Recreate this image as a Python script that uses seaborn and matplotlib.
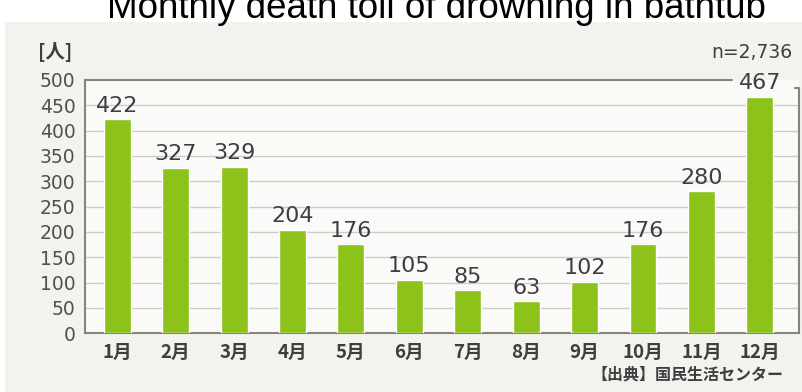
import matplotlib
matplotlib.use("Agg")
import matplotlib.pyplot as plt
import seaborn as sns
import pandas as pd

months = ["1月", "2月", "3月", "4月", "5月", "6月", "7月", "8月", "9月", "10月", "11月", "12月"]
deaths = [422, 327, 329, 204, 176, 105, 85, 63, 102, 176, 280, 467]
y_ticks = [0, 50, 100, 150, 200, 250, 300, 350, 400, 450, 500]

title = "Monthly death toll of drowning in bathtub"
unit_label = "[人]"
total_label = "n=2,736"
source_label = "【出典】国民生活センター"

sns.set_theme(style="white")
plt.rcParams["font.family"] = ["DejaVu Sans", "Noto Sans CJK JP"]
cjk = ["Noto Sans CJK JP", "DejaVu Sans"]

bar_color = "#8cc21a"
text_color = "#3e3e3e"
tick_color = "#505050"
frame_color = "#85857f"
grid_color = "#cdcdc8"
paper = "#f3f2ef"
plot_bg = "#fafaf8"

df = pd.DataFrame({"month": months, "deaths": deaths})

fig = plt.figure(figsize=(8.03, 3.92), dpi=100)
fig.patch.set_facecolor("white")
# paper area below the title
fig.patches.append(plt.Rectangle((0.006, 0.0), 0.994, 0.945, transform=fig.transFigure,
                                 facecolor=paper, edgecolor="none", zorder=-10))

ax = fig.add_axes([0.106, 0.150, 0.889, 0.646])
ax.set_facecolor(plot_bg)
sns.barplot(data=df, x="month", y="deaths", color=bar_color, width=0.46,
            saturation=1, ax=ax, zorder=3)

x_left, x_right = -0.55, 11.67
ax.set_ylim(0, 500)
ax.set_xlim(x_left, x_right)
ax.set_yticks(y_ticks)
ax.set_yticklabels([str(v) for v in y_ticks], fontsize=13.5, color=tick_color)
ax.tick_params(axis="x", labelsize=13.5, colors=text_color, length=0, pad=7)
ax.tick_params(axis="y", length=0, pad=7)
for lbl in ax.get_xticklabels():
    lbl.set_fontweight("bold")
    lbl.set_family(cjk)
ax.set_xlabel("")
ax.set_ylabel("")

for v in y_ticks[1:-1]:
    ax.axhline(v, color=grid_color, lw=1.0, zorder=1)

for side in ["left", "bottom"]:
    ax.spines[side].set_color(frame_color)
    ax.spines[side].set_linewidth(1.5)
ax.spines["top"].set_visible(False)
ax.spines["right"].set_visible(False)

# top rule stops short of the last label; a small bracket closes the right side
ax.plot([x_left, 10.53], [500, 500], color=frame_color, lw=1.5, clip_on=False, zorder=2)
ax.plot([x_right - 0.07, x_right, x_right], [484, 484, 0], color=frame_color,
        lw=1.5, clip_on=False, zorder=2)

for i, v in enumerate(deaths):
    ax.text(i, v + 7, str(v), ha="center", va="bottom", fontsize=16,
            color=text_color, zorder=4, clip_on=False)

fig.text(0.543, 0.953, title, ha="center", va="baseline", fontsize=26.5,
         color="black", family=["Liberation Sans"])
fig.text(0.047, 0.867, unit_label, ha="left", va="center", fontsize=14,
         color=text_color, family=cjk, fontweight="bold")
fig.text(0.987, 0.867, total_label, ha="right", va="center", fontsize=13.5,
         color=text_color)
fig.text(0.976, 0.045, source_label, ha="right", va="center", fontsize=11.5,
         color=text_color, fontweight="bold", family=cjk)

fig.savefig("out.png", dpi=100, facecolor=fig.get_facecolor())
